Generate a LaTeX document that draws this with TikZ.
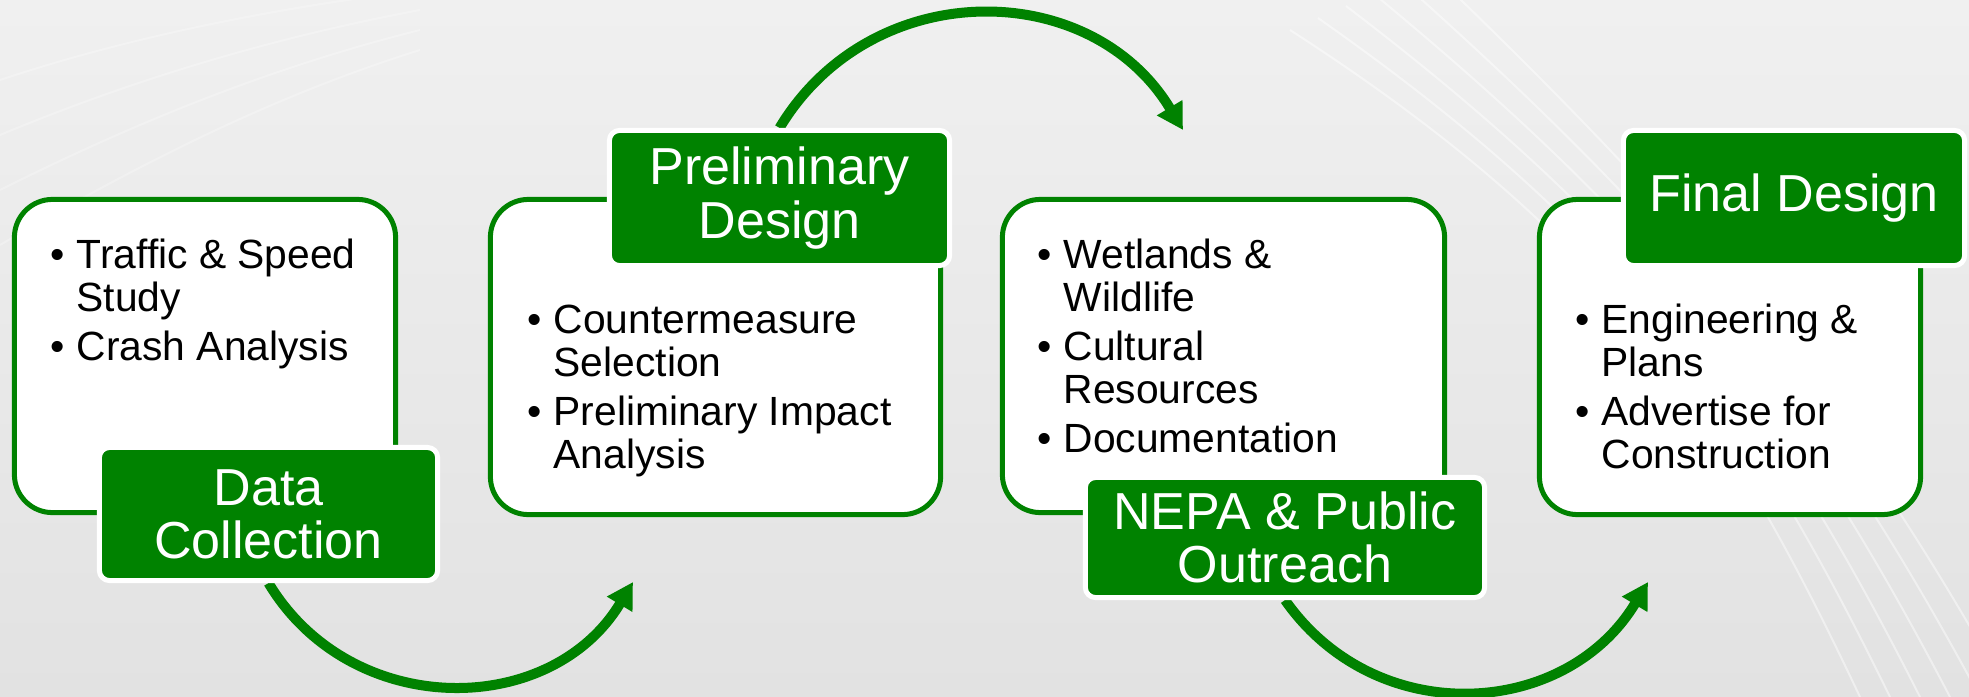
\documentclass[tikz,border=0pt]{standalone}
\usepackage{fontspec}
\setmainfont{Liberation Sans}
\usetikzlibrary{arrows.meta}
\definecolor{stagegreen}{RGB}{0,130,0}
\definecolor{backtop}{RGB}{240,240,240}
\definecolor{backbot}{RGB}{226,226,226}
\pgfdeclarelayer{bg}
\pgfdeclarelayer{flow}
\pgfsetlayers{bg,flow,main}
\newcommand\bodyfont{\fontsize{11.6pt}{12.4pt}\selectfont}
\newcommand\labfont{\fontsize{14.8pt}{15.1pt}\selectfont}
\newcommand\bulletmark{\makebox[0.26cm][l]{\textbullet}}
\begin{document}
\begin{tikzpicture}[x=0.01cm,y=-0.01cm,
	panel/.style={draw=stagegreen,fill=white,line width=0.05cm,rounded corners=0.38cm,inner sep=0},
	stagelabel/.style={draw=white,fill=stagegreen,line width=0.05cm,rounded corners=0.1cm,text=white,font=\labfont,align=center,inner sep=0},
	items/.style={anchor=base west,inner sep=0,font=\bodyfont},
	flow/.style={draw=stagegreen,line width=0.1cm,-{Triangle[length=0.26cm,width=0.28cm]}}]
	\useasboundingbox (0,0) rectangle (1969,697);
	\begin{pgfonlayer}{bg}
		\shade[top color=backtop,bottom color=backbot] (0,0) rectangle (1969,697);
		% faint streaks
		\foreach \s in {0,...,5}
			\draw[white,opacity=0.45,line width=0.02cm] (1290+\s*28,30-\s*12) .. controls (1600+\s*20,230) and (1720+\s*25,400) .. (1860+\s*30,697);
		\foreach \s in {0,...,3}
			\draw[white,opacity=0.25,line width=0.02cm] (0,80+\s*55) .. controls (120,40+\s*45) and (260,10+\s*30) .. (420,-10+\s*20);
	\end{pgfonlayer}
	% panels
	\node[panel,minimum width=3.81cm,minimum height=3.13cm] (p1) at (205,356) {};
	\node[panel,minimum width=4.50cm,minimum height=3.15cm] (p2) at (715.5,357) {};
	\node[panel,minimum width=4.42cm,minimum height=3.13cm] (p3) at (1223.5,356) {};
	\node[panel,minimum width=3.81cm,minimum height=3.15cm] (p4) at (1730,357) {};
	% bullet texts
	\node[items] (t1) at (50,268) {\begin{tabular}[t]{@{}l@{}l@{}}
		\bulletmark & Traffic \& Speed\\ & Study\\[1.4pt]
		\bulletmark & Crash Analysis
	\end{tabular}};
	\node[items] (t2) at (527,333) {\begin{tabular}[t]{@{}l@{}l@{}}
		\bulletmark & Countermeasure\\ & Selection\\[1.4pt]
		\bulletmark & Preliminary Impact\\ & Analysis
	\end{tabular}};
	\node[items] (t3) at (1037,268) {\begin{tabular}[t]{@{}l@{}l@{}}
		\bulletmark & Wetlands \&\\ & Wildlife\\[1.4pt]
		\bulletmark & Cultural\\ & Resources\\[1.4pt]
		\bulletmark & Documentation
	\end{tabular}};
	\node[items] (t4) at (1575,333) {\begin{tabular}[t]{@{}l@{}l@{}}
		\bulletmark & Engineering \&\\ & Plans\\[1.4pt]
		\bulletmark & Advertise for\\ & Construction
	\end{tabular}};
	% stage labels
	\node[stagelabel,minimum width=3.38cm,minimum height=1.33cm] (l1) at (268.5,514) {Data\\Collection};
	\node[stagelabel,minimum width=3.40cm,minimum height=1.35cm] (l2) at (779.5,198) {Preliminary\\Design};
	\node[stagelabel,minimum width=3.99cm,minimum height=1.20cm] (l3) at (1285,537.5) {NEPA \& Public\\Outreach};
	\node[stagelabel,minimum width=3.41cm,minimum height=1.35cm] (l4) at (1794,198) {Final Design};
	% arrow ends
	\coordinate (tip1) at (633,582);
	\coordinate (tip2) at (1183,130);
	\coordinate (tip3) at (1648,582);
	\begin{pgfonlayer}{flow}
		\draw[flow] (l1.south) to[out=-59,in=-121,looseness=1.12] (tip1);
		\draw[flow] (l2.north) to[out=59,in=121,looseness=1.13] (tip2);
		\draw[flow] (l3.south) to[out=-55,in=-121,looseness=1.12] (tip3);
	\end{pgfonlayer}
\end{tikzpicture}
\end{document}
